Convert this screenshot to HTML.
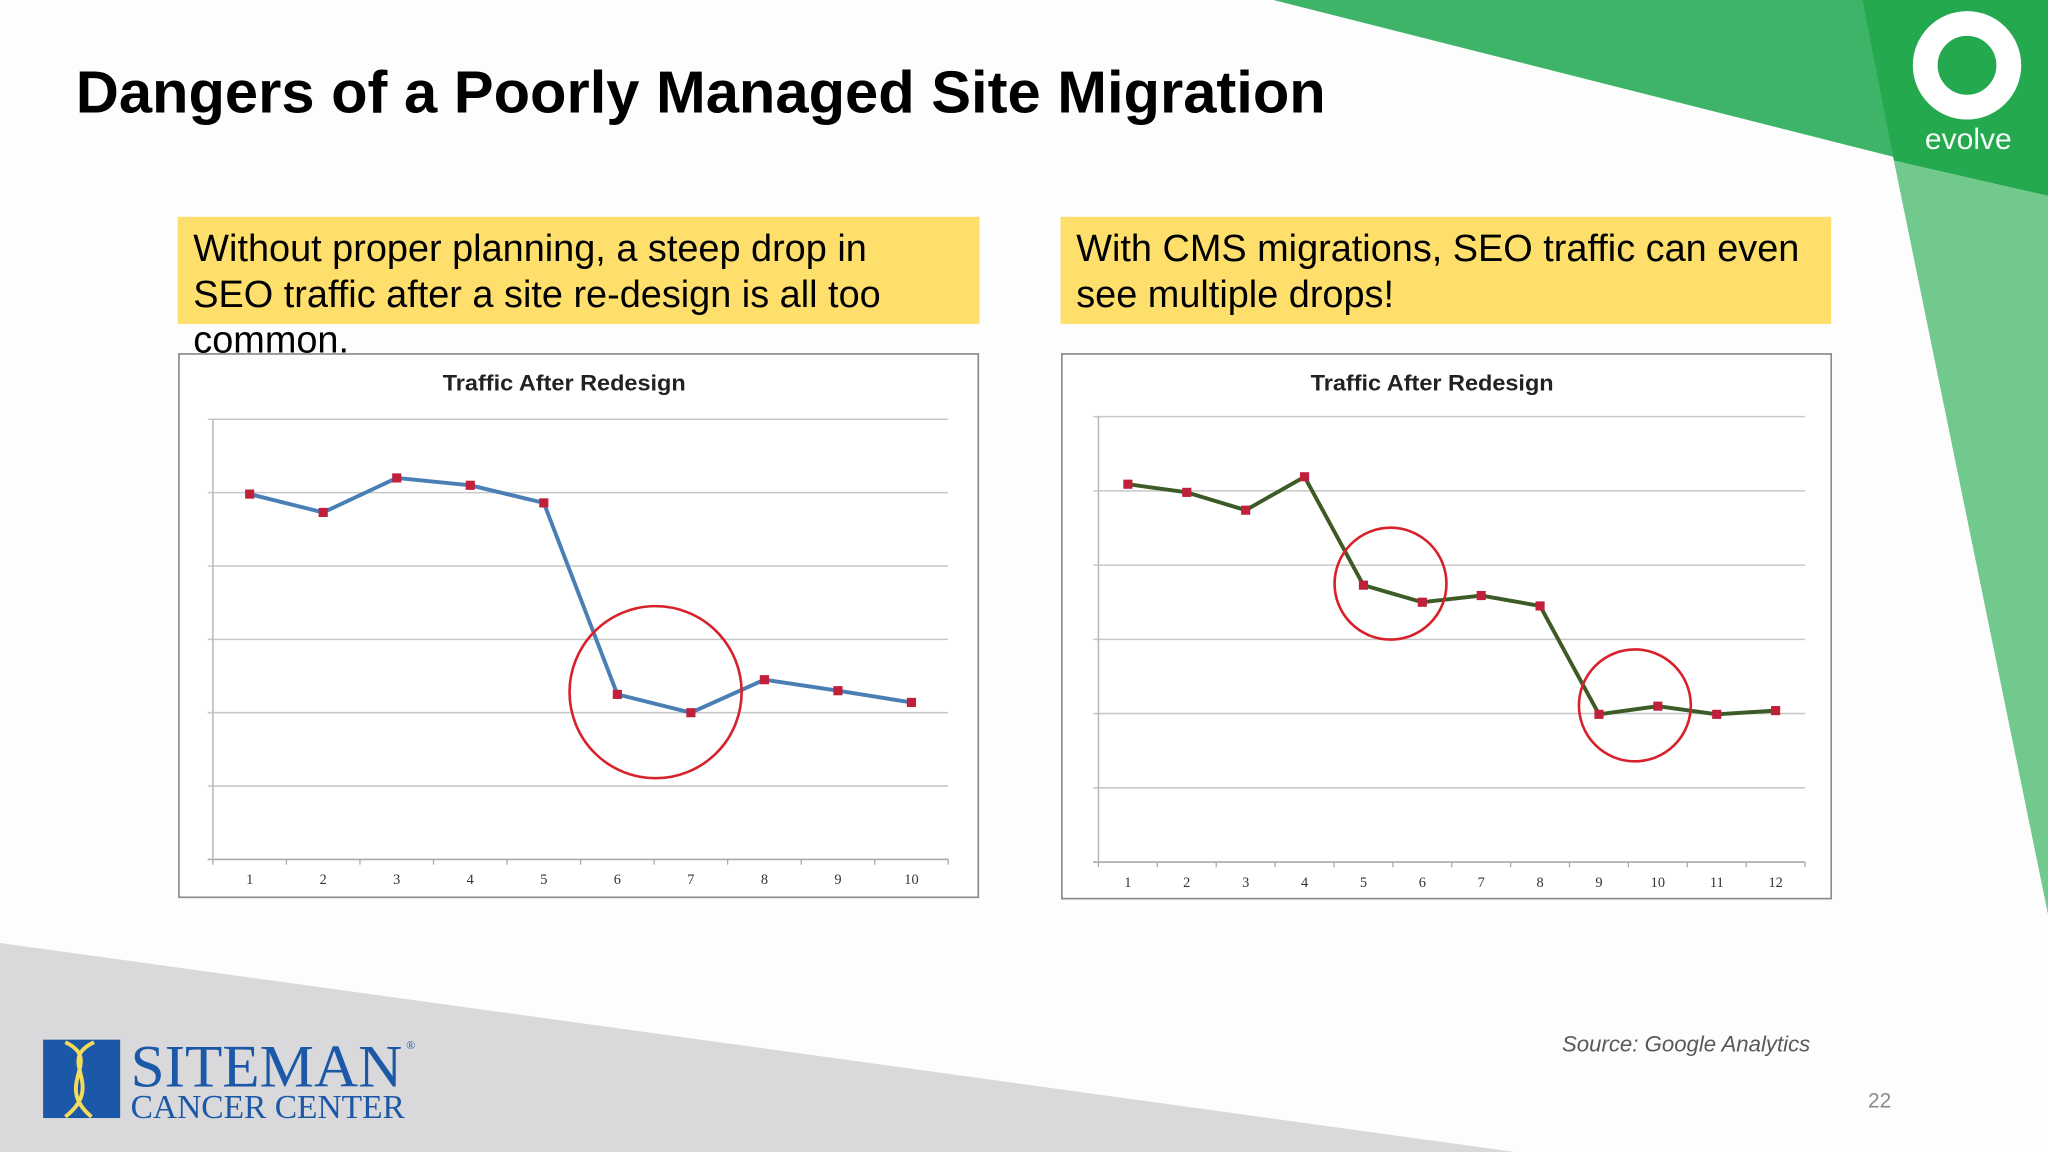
<!DOCTYPE html>
<html><head><meta charset="utf-8"><style>
html,body{margin:0;padding:0;background:#fff}
svg{display:block}
</style></head><body>
<svg id="root" width="2048" height="1152" viewBox="0 0 1568 882" xmlns="http://www.w3.org/2000/svg" font-family="Liberation Sans, sans-serif">
<rect width="1568" height="882" fill="#fdfdfe"/>
<polygon points="975,0 1568,0 1568,150" fill="#3db467"/>
<polygon points="1426,0 1568,0 1568,150 1450,123" fill="#25a94f"/>
<polygon points="1450,123 1568,150 1568,700" fill="#72c98e"/>
<polygon points="0,722 1160,882 0,882" fill="#d9d8da"/>
<g>
<circle cx="1506" cy="50" r="32" fill="none" stroke="#fff" stroke-width="19"/>
<text x="1507" y="114" font-size="23" fill="#f4fbf6" text-anchor="middle">evolve</text>
</g>
<text x="58" y="86" font-size="45.7" font-weight="bold" fill="#000">Dangers of a Poorly Managed Site Migration</text>
<rect x="136" y="166" width="614" height="82" fill="#fedf6b"/>
<text font-size="29" fill="#000"><tspan x="148" y="200">Without proper planning, a steep drop in</tspan><tspan x="148" y="235">SEO traffic after a site re-design is all too</tspan><tspan x="148" y="270">common.</tspan></text>
<rect x="812" y="166" width="590" height="82" fill="#fedf6b"/>
<text font-size="29" fill="#000"><tspan x="824" y="200">With CMS migrations, SEO traffic can even</tspan><tspan x="824" y="235">see multiple drops!</tspan></text>
<g id="chart1"></g>
<g id="chart2"></g>
<g>
<rect x="33" y="796" width="59" height="60" fill="#1b58a8"/>
<path d="M72,798 C42,812 82,830 50,855 M50,798 C80,812 40,830 70,855" stroke="#f4dc5a" stroke-width="3" fill="none"/>
<text x="100" y="832" style="font-family:'Liberation Serif',serif" font-size="46" fill="#1b58a8" textLength="208" lengthAdjust="spacingAndGlyphs">SITEMAN</text>
<text x="311" y="803" style="font-family:'Liberation Serif',serif" font-size="9" fill="#1b58a8">®</text>
<text x="100" y="856" style="font-family:'Liberation Serif',serif" font-size="26" fill="#1b58a8" textLength="210" lengthAdjust="spacingAndGlyphs">CANCER CENTER</text>
</g>
<text x="1386" y="805" font-size="17" font-style="italic" fill="#595959" text-anchor="end">Source: Google Analytics</text>
<text x="1448" y="848" font-size="16" fill="#8a8a8a" text-anchor="end">22</text>
</svg>
<script>
const cats1 = [1,2,3,4,5,6,7,8,9,10];
const vals1 = [4.98,4.73,5.2,5.1,4.86,2.25,2.0,2.45,2.3,2.14];
const cats2 = [1,2,3,4,5,6,7,8,9,10,11,12];
const vals2 = [5.09,4.98,4.74,5.19,3.73,3.5,3.59,3.45,1.99,2.1,1.99,2.04];
const circles1 = [[6.52,2.28,1.17]];
const circles2 = [[5.46,3.75,0.95],[9.61,2.11,0.95]];
const yMax = 6;
const NS = "http://www.w3.org/2000/svg";
function mk(tag, attrs, parent){const e=document.createElementNS(NS,tag);for(const k in attrs)e.setAttribute(k,attrs[k]);parent.appendChild(e);return e;}
function draw(gid, frame, plot, cats, vals, circles, lineColor){
  const g=document.getElementById(gid);
  const fr=mk('rect',{x:frame[0],y:frame[1],width:frame[2],height:frame[3],fill:'#fff',stroke:'#8c8c8c','stroke-width':1.3},g);
  
  
  const t=mk('text',{x:frame[0]+frame[2]/2-11,y:frame[1]+28,'font-size':17,'font-weight':'bold','text-anchor':'middle',fill:'#222',textLength:186,lengthAdjust:'spacingAndGlyphs'},g);
  t.textContent='Traffic After Redesign';
  
  
  const [L,T,R,B]=plot;
  const n=cats.length, step=(R-L)/n;
  const x=i=>L+step*(i+0.5);
  const xc=c=>L+step*(c-0.5);
  const y=v=>B-(B-T)*v/yMax;
  for(let k=0;k<=yMax;k++){
    const gl=mk('line',{x1:L-4,x2:R,y1:y(k),y2:y(k),stroke:k==0?'#aaa':'#c8c8c8','stroke-width':1.2},g);
    
    
  }
  const ax=mk('line',{x1:L,x2:L,y1:T,y2:B,stroke:'#bbb','stroke-width':1.2},g);
  
  
  for(let i=0;i<=n;i++){mk('line',{x1:L+step*i,x2:L+step*i,y1:B,y2:B+4,stroke:'#aaa'},g);}
  cats.forEach((c,i)=>{
    const tl=mk('text',{x:x(i),y:B+19,'font-size':11,style:"font-family:'Liberation Serif',serif",'text-anchor':'middle',fill:'#333'},g);
    tl.textContent=c;
    
    
  });
  const pts=vals.map((v,i)=>x(i)+','+y(v)).join(' ');
  const pl=mk('polyline',{points:pts,fill:'none',stroke:lineColor,'stroke-width':3,'stroke-linejoin':'round'},g);
  
  
  vals.forEach((v,i)=>{
    const m=mk('rect',{x:x(i)-3.5,y:y(v)-3.5,width:7,height:7,fill:'#c0203a'},g);
    
    
  });
  circles.forEach(c=>{
    const r=c[2]*step;
    const ci=mk('ellipse',{cx:xc(c[0]),cy:y(c[1]),rx:r,ry:r,fill:'none',stroke:'#d7212b','stroke-width':2},g);
    
    
  });
}
draw('chart1',[137,271,612,416],[163,321,726,658],cats1,vals1,circles1,'#4a7fb5');
draw('chart2',[813,271,589,417],[841,319,1382,660],cats2,vals2,circles2,'#3d5b26');
</script>
</body></html>
